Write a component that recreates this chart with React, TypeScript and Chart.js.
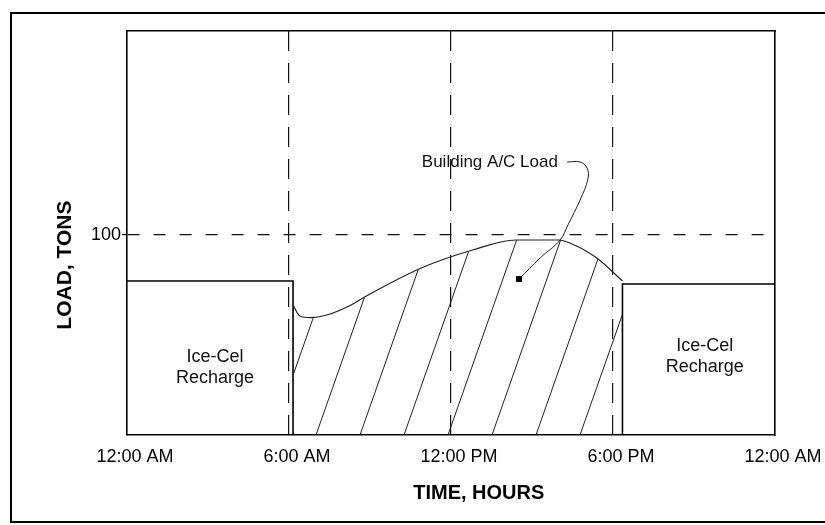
import React, { useEffect, useRef } from "react";
import { Chart, registerables } from "chart.js";

Chart.register(...registerables);

// ---- axis ticks ----
const HOUR_TICKS = [0, 6, 12, 18, 24];
const HOUR_LABELS = ["12:00 AM", "6:00 AM", "12:00 PM", "6:00 PM", "12:00 AM"];
const LOAD_TICKS = [100];
const LOAD_MAX = 202;

// ---- building A/C load curve (hours, tons) ----
const LOAD_HOURS = [6.15, 6.4, 6.8, 7.4, 8.3, 8.8, 10.9, 12.8, 14.4, 16.0, 16.4, 17.4, 18.35];
const LOAD_TONS = [65, 59.5, 58.7, 60, 65, 69, 83.5, 92.5, 97.5, 97.5, 96, 88.5, 77];

// ---- Ice-Cel recharge blocks ----
const RECHARGE_AM_HOURS = [0, 6.15, 6.15];
const RECHARGE_AM_TONS = [77, 77, 0];
const RECHARGE_PM_HOURS = [18.35, 18.35, 24];
const RECHARGE_PM_TONS = [0, 75.5, 75.5];

// ---- callout leader line ----
const LEADER_HOURS = [16.3, 16.78, 17.04, 17.07, 16.78, 16.33, 16.04, 15.3, 14.52];
const LEADER_TONS = [136.5, 136.5, 133.5, 128, 117.5, 105, 97.5, 88.5, 78];

// ---- text notes ----
const NOTE_TEXTS = ["Building A/C Load", "Ice-Cel", "Recharge", "Ice-Cel", "Recharge"];
const NOTE_HOURS = [15.96, 3.26, 3.26, 21.4, 21.4];
const NOTE_TONS = [136.5, 39, 28.5, 44.5, 34];
const NOTE_ALIGN: CanvasTextAlign[] = ["right", "center", "center", "center", "center"];

const FONT = "'Liberation Sans', Arial, Helvetica, sans-serif";
const NB = "\u00A0";

function pts(xs: number[], ys: number[]) {
  return xs.map((x, i) => ({ x, y: ys[i] }));
}

function makeHatch(): CanvasPattern | string {
  const W = 44;
  const H = 125;
  const c = document.createElement("canvas");
  c.width = W;
  c.height = H;
  const g = c.getContext("2d");
  if (!g) return "rgba(0,0,0,0)";
  const off = (316 + (435 * W) / H) % W;
  g.strokeStyle = "#222";
  g.lineWidth = 1;
  for (let k = -1; k <= 2; k++) {
    g.beginPath();
    g.moveTo(off + k * W, 0);
    g.lineTo(off + k * W - W, H);
    g.stroke();
  }
  const p = g.createPattern(c, "repeat");
  return p || "rgba(0,0,0,0)";
}

const notesPlugin = {
  id: "notes",
  afterDatasetsDraw(chart: any) {
    const { ctx, scales } = chart;
    ctx.save();
    ctx.fillStyle = "#111";
    ctx.textBaseline = "middle";
    NOTE_TEXTS.forEach((t, i) => {
      const x = scales.x.getPixelForValue(NOTE_HOURS[i]);
      const y = scales.y.getPixelForValue(NOTE_TONS[i]);
      ctx.font = (i === 0 ? "17px " : "18px ") + FONT;
      ctx.textAlign = NOTE_ALIGN[i];
      ctx.fillText(t, x, y);
    });
    ctx.restore();
  },
};

export default function App() {
  const ref = useRef<HTMLCanvasElement | null>(null);

  useEffect(() => {
    if (!ref.current) return;
    const hatch = makeHatch();
    const chart = new Chart(ref.current, {
      type: "line",
      data: {
        datasets: [
          {
            label: "Building A/C Load",
            data: pts(LOAD_HOURS, LOAD_TONS),
            borderColor: "#222",
            borderWidth: 1.2,
            pointRadius: 0,
            fill: "origin",
            backgroundColor: hatch as any,
            cubicInterpolationMode: "monotone",
          },
          {
            label: "Ice-Cel Recharge AM",
            data: pts(RECHARGE_AM_HOURS, RECHARGE_AM_TONS),
            borderColor: "#000",
            borderWidth: 1.6,
            pointRadius: 0,
            fill: false,
            tension: 0,
          },
          {
            label: "Ice-Cel Recharge PM",
            data: pts(RECHARGE_PM_HOURS, RECHARGE_PM_TONS),
            borderColor: "#000",
            borderWidth: 1.6,
            pointRadius: 0,
            fill: false,
            tension: 0,
          },
          {
            label: "Leader",
            data: pts(LEADER_HOURS, LEADER_TONS),
            borderColor: "#222",
            borderWidth: 1,
            fill: false,
            tension: 0.4,
            pointStyle: "rect",
            pointRadius: (c: any) => (c.dataIndex === LEADER_HOURS.length - 1 ? 3.5 : 0),
            pointBackgroundColor: "#000",
            pointBorderColor: "#000",
          },
        ],
      },
      options: {
        responsive: false,
        animation: false,
        layout: { padding: 0 },
        plugins: {
          legend: { display: false },
          tooltip: { enabled: false },
        },
        scales: {
          x: {
            type: "linear",
            position: "bottom",
            min: 0,
            max: 24,
            afterBuildTicks: (s: any) => {
              s.ticks = HOUR_TICKS.map((v) => ({ value: v }));
            },
            afterFit: (s: any) => {
              s.height = 90;
            },
            ticks: {
              callback: (v: any) => HOUR_LABELS[HOUR_TICKS.indexOf(Number(v))],
              font: { size: 18, family: FONT },
              color: "#000",
              padding: 11,
              maxRotation: 0,
              autoSkip: false,
              labelOffset: 8,
            },
            grid: {
              color: (c: any) =>
                c.tick && c.tick.value > 0 && c.tick.value < 24 ? "#111" : "rgba(0,0,0,0)",
              lineWidth: 1.2,
              drawTicks: false,
            },
            border: { display: true, color: "#000", width: 1.6, dash: [20, 12] },
            title: {
              display: true,
              text: NB.repeat(10) + "TIME, HOURS",
              color: "#000",
              font: { size: 20, weight: "bold", family: FONT },
              padding: { top: 0, bottom: 20 },
            },
          },
          y: {
            type: "linear",
            position: "left",
            min: 0,
            max: LOAD_MAX,
            afterBuildTicks: (s: any) => {
              s.ticks = LOAD_TICKS.map((v) => ({ value: v }));
            },
            afterFit: (s: any) => {
              s.width = 127;
            },
            ticks: {
              callback: (v: any) => String(v),
              font: { size: 18, family: FONT },
              color: "#000",
              padding: 1,
            },
            grid: { color: "#111", lineWidth: 1.2, drawTicks: true, tickLength: 5 },
            border: { display: true, color: "#000", width: 1.6, dash: [12, 14] },
            title: {
              display: true,
              text: "LOAD, TONS" + NB.repeat(11),
              color: "#000",
              font: { size: 21, weight: "bold", family: FONT },
              padding: { top: 53, bottom: 0 },
            },
          },
          x2: {
            type: "linear",
            position: "top",
            min: 0,
            max: 24,
            ticks: { display: false },
            grid: { display: false, drawTicks: false },
            border: { display: true, color: "#000", width: 1.6 },
            afterFit: (s: any) => {
              s.height = 31;
            },
          },
          y2: {
            type: "linear",
            position: "right",
            min: 0,
            max: LOAD_MAX,
            ticks: { display: false },
            grid: { display: false, drawTicks: false },
            border: { display: true, color: "#000", width: 1.6 },
            afterFit: (s: any) => {
              s.width = 50;
            },
          },
        },
      } as any,
      plugins: [notesPlugin],
    });
    return () => chart.destroy();
  }, []);

  return (
    <>
      <div
        style={{
          position: "absolute",
          left: 10,
          top: 12,
          width: 815,
          height: 511,
          boxSizing: "border-box",
          borderTop: "2px solid #000",
          borderLeft: "2px solid #000",
          borderBottom: "2px solid #000",
        }}
      />
      <canvas
        ref={ref}
        width={825}
        height={525}
        style={{ position: "absolute", left: 0, top: 0, display: "block" }}
      />
    </>
  );
}
